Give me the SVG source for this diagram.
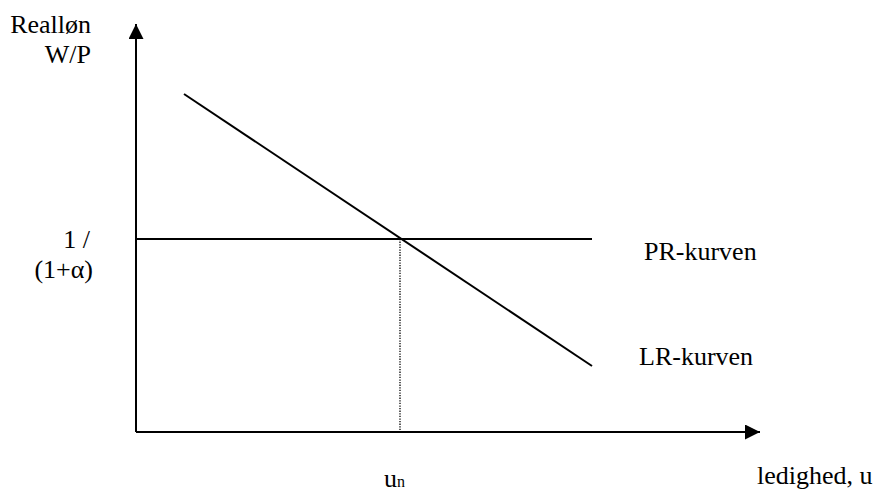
<svg xmlns="http://www.w3.org/2000/svg" width="874" height="492" viewBox="0 0 874 492">
<style>
text{font-family:"Liberation Serif","Times New Roman",serif;font-size:26px;fill:#000}
.ln{stroke:#000;stroke-width:2;fill:none}
</style>
<defs>
<marker id="ah" markerWidth="16" markerHeight="16" refX="15" refY="7.5" orient="auto" markerUnits="userSpaceOnUse">
<path d="M0,0 L15,7.5 L0,15 Z" fill="#000"/>
</marker>
</defs>
<rect width="874" height="492" fill="#fff"/>
<g id="connectors">
<line class="ln" x1="136" y1="432" x2="136" y2="24" marker-end="url(#ah)"/>
<line class="ln" x1="136" y1="432" x2="760" y2="432" marker-end="url(#ah)"/>
<line class="ln" x1="136" y1="239" x2="592" y2="239"/>
<line class="ln" x1="184" y1="94" x2="592" y2="366"/>
<line x1="400" y1="239" x2="400" y2="431" stroke="#000" stroke-width="1.3" stroke-dasharray="1.3,1.3"/>
</g>
<g id="ylabel">
<text x="91" y="33" text-anchor="end">Realløn</text>
<text x="91" y="63" text-anchor="end">W/P</text>
</g>
<g id="ytick">
<text x="90" y="248" text-anchor="end">1 /</text>
<text x="93" y="278" text-anchor="end">(1+α)</text>
</g>
<g id="pr"><text x="644" y="260">PR-kurven</text></g>
<g id="lr"><text x="639" y="365">LR-kurven</text></g>
<g id="un"><text x="384" y="487">u<tspan font-size="16">n</tspan></text></g>
<g id="xlabel"><text x="757" y="484">ledighed, u</text></g>
</svg>
